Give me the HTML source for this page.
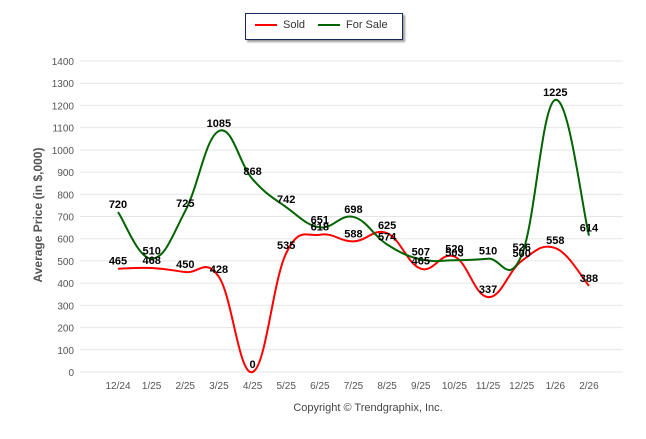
<!DOCTYPE html>
<html><head><meta charset="utf-8"><style>
body{margin:0;background:#fff;font-family:"Liberation Sans",sans-serif}
</style></head><body>
<svg id="c" width="646" height="434" xmlns="http://www.w3.org/2000/svg"></svg>
<script>
const categories=["12/24","1/25","2/25","3/25","4/25","5/25","6/25","7/25","8/25","9/25","10/25","11/25","12/25","1/26","2/26"];
const soldValues=[465,468,450,428,0,535,618,588,625,465,520,337,500,558,388];
const forSaleValues=[720,510,725,1085,868,742,651,698,574,507,503,510,526,1225,614];
const yTicks=[0,100,200,300,400,500,600,700,800,900,1000,1100,1200,1300,1400];
const svg=document.getElementById('c');const NS="http://www.w3.org/2000/svg";
function mk(t,a,p){const e=document.createElementNS(NS,t);for(const k in a)e.setAttribute(k,a[k]);(p||svg).appendChild(e);return e;}
const x0=118,dx=33.64,yb=372,yt=61;
const X=i=>x0+i*dx;const Y=v=>yb-(v/1400)*(yb-yt);
yTicks.forEach(t=>{
 const g=mk('line',{x1:80,x2:623,y1:Y(t),y2:Y(t),stroke:'#e6e6e6','stroke-width':1});
 
 const l=mk('text',{x:74,y:Y(t)+4,'text-anchor':'end','font-size':10,fill:'#555'});l.textContent=t;
 
});
categories.forEach((c,i)=>{
 const l=mk('text',{x:X(i),y:389,'text-anchor':'middle','font-size':10,fill:'#555'});l.textContent=c;
 
});
function path(vals){
 const p=vals.map((v,i)=>[X(i),Y(v)]);let d=`M${p[0][0]},${p[0][1]}`;
 for(let i=0;i<p.length-1;i++){
  const a=p[Math.max(0,i-1)],b=p[i],c=p[i+1],e=p[Math.min(p.length-1,i+2)];
  const k=1/5;
  d+=` C${b[0]+(c[0]-a[0])*k},${b[1]+(c[1]-a[1])*k} ${c[0]-(e[0]-b[0])*k},${c[1]-(e[1]-b[1])*k} ${c[0]},${c[1]}`;
 }return d;}
const sp=mk('path',{d:path(soldValues),fill:'none',stroke:'#f00','stroke-width':2});

const fp=mk('path',{d:path(forSaleValues),fill:'none',stroke:'#006400','stroke-width':2});

[[soldValues,'sold-value-label'],[forSaleValues,'for-sale-value-label']].forEach(([vals,n])=>{
 vals.forEach((v,i)=>{
  const t=mk('text',{x:X(i),y:Y(v)-4,'text-anchor':'middle','font-size':11,'font-weight':'bold',fill:'#000'});t.textContent=v;
  
 });
});
</script>
<div style="position:absolute;left:245px;top:13px;width:156px;height:25px;border:1px solid #1a2a5a;box-shadow:2px 2px 2px #999;background:#fff;font-size:11px;color:#333">
 <span style="position:absolute;left:9px;top:5px"><span style="display:inline-block;width:22px;height:2px;background:#f00;vertical-align:middle;margin-right:6px"></span>Sold</span>
 <span style="position:absolute;left:72px;top:5px"><span style="display:inline-block;width:22px;height:2px;background:#006400;vertical-align:middle;margin-right:6px"></span>For Sale</span>
</div>
<div style="position:absolute;left:-62px;top:208px;width:200px;text-align:center;transform:rotate(-90deg);font-size:12px;font-weight:bold;color:#555">Average Price (in $,000)</div>
<div style="position:absolute;left:0;top:402px;width:736px;text-align:center;font-size:11px;color:#444">Copyright © Trendgraphix, Inc.</div>
</body></html>
